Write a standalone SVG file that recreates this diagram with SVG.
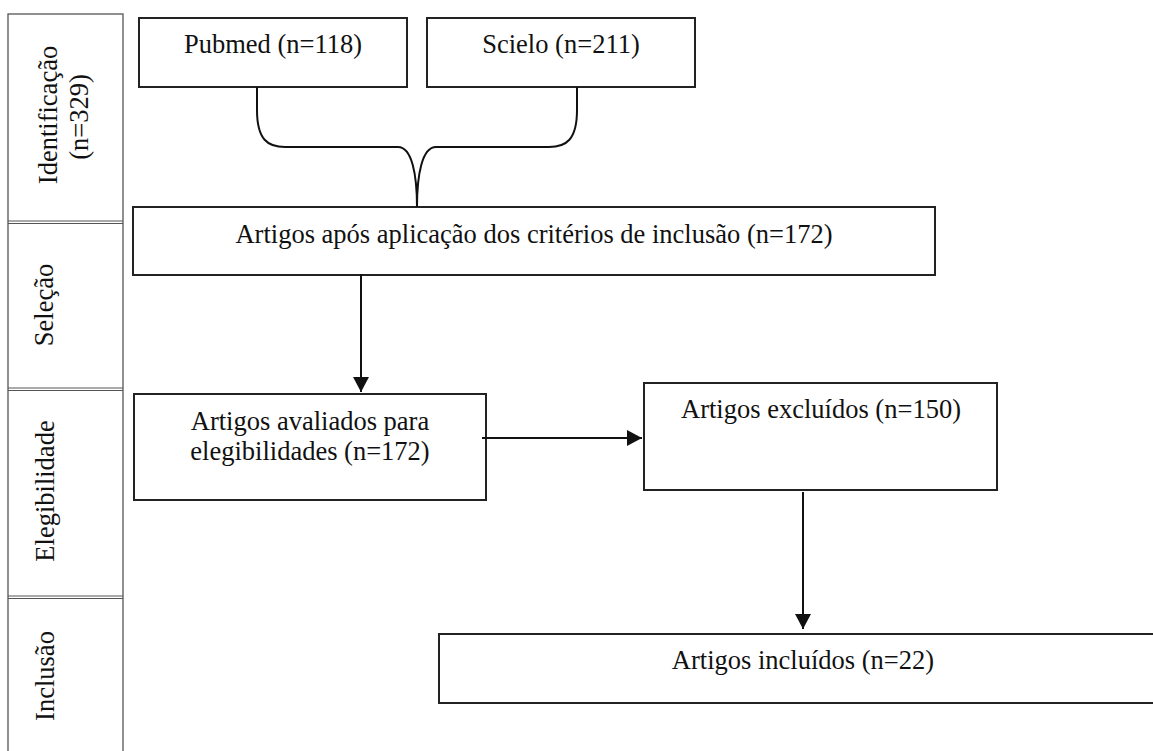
<svg xmlns="http://www.w3.org/2000/svg" width="1153" height="751" viewBox="0 0 1153 751">
<style>
.bg{fill:#ffffff}
.box{fill:#ffffff;stroke:#222222;stroke-width:2}
.col{fill:none;stroke:#555555;stroke-width:1.3}
.div{stroke:#555555;stroke-width:1}
.t{font-family:"Liberation Serif","Times New Roman",serif;font-size:26.5px;fill:#111111;text-anchor:middle}
.conn{fill:none;stroke:#111111;stroke-width:2}
</style>
<defs>
<marker id="ah" viewBox="0 0 15 16" refX="15" refY="8" markerWidth="15" markerHeight="16" markerUnits="userSpaceOnUse" orient="auto">
<path d="M0,0 L15,8 L0,16 z" fill="#111111"/>
</marker>
</defs>
<rect class="bg" x="0" y="0" width="1153" height="751"/>

<g id="stages">
<rect class="col" x="8" y="14" width="115" height="760"/>
<line class="div" x1="8" y1="221" x2="123" y2="221"/>
<line class="div" x1="8" y1="223.5" x2="123" y2="223.5"/>
<line class="div" x1="8" y1="388" x2="123" y2="388"/>
<line class="div" x1="8" y1="390.5" x2="123" y2="390.5"/>
<line class="div" x1="8" y1="596" x2="123" y2="596"/>
<line class="div" x1="8" y1="598.5" x2="123" y2="598.5"/>
<text class="t" transform="translate(57,115) rotate(-90)">Identificação</text>
<text class="t" transform="translate(88,117) rotate(-90)">(n=329)</text>
<text class="t" transform="translate(53,305) rotate(-90)">Seleção</text>
<text class="t" transform="translate(54,491) rotate(-90)">Elegibilidade</text>
<text class="t" transform="translate(54,676) rotate(-90)">Inclusão</text>
</g>

<g id="pubmed">
<rect class="box" x="139" y="18" width="268" height="69"/>
<text class="t" x="273" y="53">Pubmed (n=118)</text>
</g>

<g id="scielo">
<rect class="box" x="427" y="18" width="268" height="69"/>
<text class="t" x="561" y="53">Scielo (n=211)</text>
</g>

<g id="apos">
<rect class="box" x="133" y="207" width="802" height="68"/>
<text class="t" x="534" y="243">Artigos após aplicação dos critérios de inclusão (n=172)</text>
</g>

<g id="avaliados">
<rect class="box" x="134" y="394" width="352" height="106"/>
<text class="t" x="310" y="430">Artigos avaliados para</text>
<text class="t" x="310" y="460">elegibilidades (n=172)</text>
</g>

<g id="excluidos">
<rect class="box" x="644" y="383" width="353" height="107"/>
<text class="t" x="821" y="418">Artigos excluídos (n=150)</text>
</g>

<g id="incluidos">
<rect class="box" x="439" y="634" width="730" height="69"/>
<text class="t" x="803" y="669">Artigos incluídos (n=22)</text>
</g>

<g id="connectors">
<path class="conn" d="M257,87 L257,110 C257,140 268,147 285,147 L398,147 C412,147 417,175 417,207"/>
<path class="conn" d="M577,87 L577,110 C577,140 566,147 549,147 L436,147 C422,147 417,175 417,207"/>
<path class="conn" d="M361,274 L361,392" marker-end="url(#ah)"/>
<path class="conn" d="M482,438 L642,438" marker-end="url(#ah)"/>
<path class="conn" d="M803,492 L803,629" marker-end="url(#ah)"/>
</g>
</svg>
